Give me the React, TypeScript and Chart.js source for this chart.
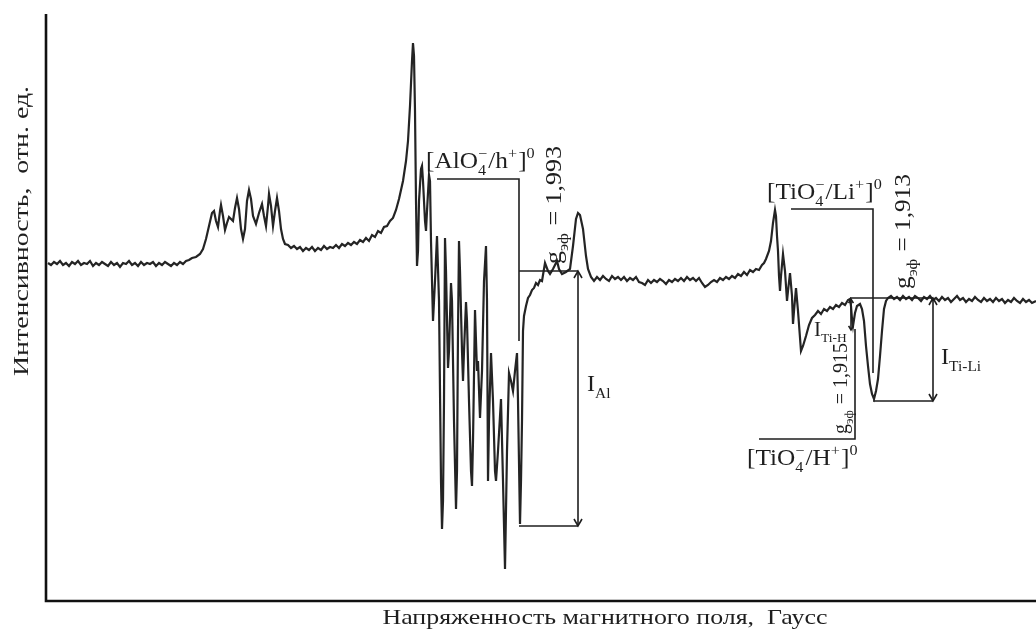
import { useEffect, useRef } from "react";
import { Chart, registerables } from "chart.js";

Chart.register(...registerables);

// Spectrum: [field (arb. units), intensity (arb. units)]
const lowFieldBaseline: [number, number][] = [
  [48, 338], [51, 336], [54, 339], [57, 337], [60, 340], [63, 336], [66, 338], [69, 335],
  [72, 339], [75, 337], [78, 340], [81, 336], [84, 338], [87, 337], [90, 340], [93, 335],
  [96, 338], [99, 336], [102, 339], [105, 337], [108, 335], [111, 339], [114, 336], [117, 338],
  [120, 334], [123, 338], [126, 337], [129, 340], [132, 336], [135, 338], [138, 335], [141, 339],
  [144, 336], [147, 338], [150, 337], [153, 339], [156, 335], [159, 338], [162, 336], [165, 339],
  [168, 337], [171, 335], [174, 338], [177, 336], [180, 339], [183, 337], [186, 340],
];

const lowFieldMultiplet: [number, number][] = [
  [189, 341], [192, 343], [196, 344], [200, 347], [203, 352], [206, 362], [209, 375], [212, 388],
  [214, 390], [216, 380], [218, 374], [220, 390], [221, 396], [223, 385], [225, 371], [227, 378],
  [229, 384], [231, 382], [233, 380], [235, 393], [237, 403], [239, 392], [241, 372], [243, 362],
  [245, 372], [247, 400], [249, 411], [251, 402], [253, 385], [256, 377], [259, 388], [262, 397],
  [264, 385], [266, 375], [268, 395], [269, 407], [271, 395], [273, 375], [275, 390], [277, 403],
  [279, 390], [281, 372], [283, 362], [285, 357],
];

const broadRise: [number, number][] = [
  [288, 356], [291, 353], [294, 355], [297, 352], [300, 354], [303, 350], [306, 353], [309, 351],
  [312, 354], [315, 350], [318, 353], [321, 351], [324, 355], [327, 352], [330, 354], [333, 353],
  [336, 356], [339, 353], [342, 357], [345, 355], [348, 358], [351, 356], [354, 359], [357, 357],
  [360, 361], [363, 359], [366, 363], [369, 360], [372, 366], [375, 364], [378, 370], [381, 368],
  [384, 374], [387, 375], [390, 380], [393, 383], [396, 391], [399, 402], [403, 420], [406, 440],
  [408, 460], [410, 495], [412, 540],
];

const aluminiumHyperfine: [number, number][] = [
  [413, 558], [414, 545], [415, 490], [416, 400], [417, 335], [418, 350], [419, 400], [421, 432],
  [422, 435], [423, 420], [425, 380], [426, 370], [427, 390], [429, 426], [430, 420], [431, 360],
  [433, 280], [435, 320], [437, 365], [439, 300], [441, 120], [442, 72], [443, 100], [444, 200],
  [445, 363], [446, 330], [448, 233], [449, 250], [451, 318], [452, 300], [454, 180], [456, 92],
  [457, 130], [458, 270], [459, 360], [460, 330], [462, 250], [463, 220], [464, 250], [466, 299],
  [467, 280], [469, 200], [471, 130], [472, 115], [473, 160], [475, 291], [476, 260], [477, 230],
  [478, 240], [480, 183], [482, 230], [484, 320], [486, 355], [487, 300], [488, 120], [489, 180],
  [491, 248], [493, 200], [495, 130], [496, 120], [498, 150], [501, 202], [503, 120], [505, 32],
  [507, 150], [509, 228], [511, 220], [513, 210], [515, 230], [517, 248], [518, 200], [520, 77],
  [521, 120], [522, 180], [523, 270], [524, 285], [526, 295], [528, 303], [530, 306], [532, 311],
  [534, 313], [536, 318], [538, 316], [540, 321], [542, 320],
];

const midFieldBaseline: [number, number][] = [
  [545, 338], [548, 330], [550, 327], [553, 332], [557, 340], [559, 332], [562, 327], [566, 329],
  [570, 332], [573, 355], [576, 382], [578, 388], [580, 386], [583, 372], [586, 345], [588, 332],
  [591, 324], [594, 320], [597, 324], [600, 321], [603, 325], [606, 322], [609, 320], [612, 325],
  [615, 322], [618, 324], [621, 321], [624, 324], [627, 320], [630, 323], [633, 321], [636, 324],
  [639, 319], [642, 318], [645, 316], [648, 321], [651, 318], [654, 321], [657, 319], [660, 322],
  [663, 320], [666, 317], [669, 321], [672, 319], [675, 322], [678, 320], [681, 323], [684, 320],
  [687, 324], [690, 321], [693, 323], [696, 320], [699, 323], [702, 318], [705, 314], [708, 316],
  [711, 319], [714, 321], [717, 319], [720, 323], [723, 321], [726, 324], [729, 322], [732, 325],
  [735, 323], [738, 327], [741, 325], [744, 329], [747, 326], [750, 331], [753, 329], [756, 332],
  [759, 331], [762, 336],
];

const titaniumRegion: [number, number][] = [
  [764, 338], [766, 342], [769, 350], [771, 360], [773, 378], [775, 391], [776, 385], [777, 365],
  [778, 350], [779, 325], [780, 310], [781, 325], [783, 347], [785, 330], [787, 300], [788, 310],
  [790, 328], [792, 305], [793, 277], [794, 290], [796, 313], [798, 290], [801, 250], [803, 255],
  [806, 265], [809, 276], [812, 283], [815, 286], [818, 290], [821, 287], [824, 292], [827, 290],
  [830, 294], [833, 292], [836, 296], [839, 294], [842, 298], [845, 296], [848, 301], [850, 302],
  [851, 295], [852, 282], [853, 275], [855, 288], [857, 295], [860, 297], [862, 292], [864, 280],
  [866, 255], [868, 235], [870, 217], [872, 207], [874, 202], [876, 210], [878, 222], [880, 245],
  [882, 270], [884, 292], [886, 300],
];

const highFieldBaseline: [number, number][] = [
  [888, 303], [891, 305], [894, 302], [897, 304], [900, 301], [903, 305], [906, 302], [909, 304],
  [912, 301], [915, 305], [918, 303], [921, 300], [924, 304], [927, 302], [930, 305], [933, 301],
  [936, 303], [939, 300], [942, 304], [945, 301], [948, 303], [951, 299], [954, 302], [957, 305],
  [960, 301], [963, 303], [966, 299], [969, 302], [972, 300], [975, 304], [978, 301], [981, 299],
  [984, 303], [987, 300], [990, 302], [993, 299], [996, 303], [999, 300], [1002, 302], [1005, 298],
  [1008, 301], [1011, 299], [1014, 303], [1017, 300], [1020, 298], [1023, 302], [1026, 299], [1029, 301],
  [1032, 298], [1036, 300],
];

// Axis range
const fieldMin = 46;
const fieldMax = 1036;
const intensityMin = 0;
const intensityMax = 587;

// Annotation geometry (data units)
const alBracket: [number, number][] = [[437, 422], [519, 422], [519, 260]];
const alLevels = { top: 330, bottom: 75, from: 519, to: 578 };
const tiLiBracket: [number, number][] = [[791, 392], [873, 392], [873, 228]];
const tiLiLevels = { top: 303, bottom: 200, from: 850, to: 933, fromBottom: 873 };
const tiHBracket: [number, number][] = [[759, 162], [855, 162], [855, 272]];
const tiHArrow = { x: 851, top: 302, bottom: 271 };

type Seg = { t?: string; sub?: string; sup?: string };

const labelAl: Seg[] = [{ t: "[AlO" }, { sub: "4", sup: "\u2212" }, { t: "/h" }, { sup: "+" }, { t: "]" }, { sup: "0" }];
const labelTiLi: Seg[] = [{ t: "[TiO" }, { sub: "4", sup: "\u2212" }, { t: "/Li" }, { sup: "+" }, { t: "]" }, { sup: "0" }];
const labelTiH: Seg[] = [{ t: "[TiO" }, { sub: "4", sup: "\u2212" }, { t: "/H" }, { sup: "+" }, { t: "]" }, { sup: "0" }];
const gAl: Seg[] = [{ t: "g" }, { sub: "эф" }, { t: " = 1,993" }];
const gTiLi: Seg[] = [{ t: "g" }, { sub: "эф" }, { t: " = 1,913" }];
const gTiH: Seg[] = [{ t: "g" }, { sub: "эф" }, { t: " = 1,915" }];
const iAl: Seg[] = [{ t: "I" }, { sub: "Al" }];
const iTiLi: Seg[] = [{ t: "I" }, { sub: "Ti-Li" }];
const iTiH: Seg[] = [{ t: "I" }, { sub: "Ti-H" }];

const xTitle = "Напряженность магнитного поля,  Гаусс";
const yTitle = "Интенсивность,  отн. ед.";

const FAMILY = '"Liberation Serif", "DejaVu Serif", serif';
const INK = "#1e1e1e";

function drawRich(ctx: CanvasRenderingContext2D, segs: Seg[], x: number, y: number, size: number, sx = 1) {
  ctx.save();
  ctx.translate(x, y);
  ctx.scale(sx, 1);
  let cx = 0;
  const small = size * 0.64;
  for (const s of segs) {
    if (s.t) {
      ctx.font = `${size}px ${FAMILY}`;
      ctx.fillText(s.t, cx, 0);
      cx += ctx.measureText(s.t).width;
    } else {
      ctx.font = `${small}px ${FAMILY}`;
      let w = 0;
      if (s.sub) {
        ctx.fillText(s.sub, cx, size * 0.3);
        w = Math.max(w, ctx.measureText(s.sub).width);
      }
      if (s.sup) {
        ctx.fillText(s.sup, cx, -size * 0.42);
        w = Math.max(w, ctx.measureText(s.sup).width);
      }
      cx += w + 1;
    }
  }
  ctx.restore();
}

function arrowHead(ctx: CanvasRenderingContext2D, x: number, y: number, up: boolean, s = 5) {
  const d = up ? 1 : -1;
  ctx.beginPath();
  ctx.moveTo(x - s * 0.8, y + d * s * 1.4);
  ctx.lineTo(x, y);
  ctx.lineTo(x + s * 0.8, y + d * s * 1.4);
  ctx.stroke();
}

const annotations = {
  id: "eprAnnotations",
  afterDraw(chart: any) {
    const { ctx, chartArea, scales } = chart;
    const X = (v: number) => scales.x.getPixelForValue(v);
    const Y = (v: number) => scales.y.getPixelForValue(v);
    ctx.save();
    // axes
    ctx.strokeStyle = "#111";
    ctx.lineWidth = 2.6;
    ctx.beginPath();
    ctx.moveTo(chartArea.left, chartArea.top);
    ctx.lineTo(chartArea.left, chartArea.bottom);
    ctx.lineTo(chartArea.right, chartArea.bottom);
    ctx.stroke();

    ctx.strokeStyle = INK;
    ctx.fillStyle = INK;
    ctx.lineWidth = 1.6;
    const poly = (pts: [number, number][]) => {
      ctx.beginPath();
      pts.forEach(([a, b], i) => (i ? ctx.lineTo(X(a), Y(b)) : ctx.moveTo(X(a), Y(b))));
      ctx.stroke();
    };
    poly(alBracket);
    poly(tiLiBracket);
    poly(tiHBracket);
    // Al levels and arrow
    poly([[alLevels.from, alLevels.top], [alLevels.to, alLevels.top]]);
    poly([[alLevels.from, alLevels.bottom], [alLevels.to, alLevels.bottom]]);
    poly([[alLevels.to, alLevels.top], [alLevels.to, alLevels.bottom]]);
    arrowHead(ctx, X(alLevels.to), Y(alLevels.top), true);
    arrowHead(ctx, X(alLevels.to), Y(alLevels.bottom), false);
    // Ti-Li levels
    poly([[tiLiLevels.from, tiLiLevels.top], [tiLiLevels.to, tiLiLevels.top]]);
    poly([[tiLiLevels.fromBottom, tiLiLevels.bottom], [tiLiLevels.to, tiLiLevels.bottom]]);
    poly([[tiLiLevels.to, tiLiLevels.top], [tiLiLevels.to, tiLiLevels.bottom]]);
    arrowHead(ctx, X(tiLiLevels.to), Y(tiLiLevels.top), true);
    arrowHead(ctx, X(tiLiLevels.to), Y(tiLiLevels.bottom), false);
    // Ti-H small arrow
    poly([[tiHArrow.x, tiHArrow.top], [tiHArrow.x, tiHArrow.bottom]]);
    arrowHead(ctx, X(tiHArrow.x), Y(tiHArrow.top), true, 3);
    arrowHead(ctx, X(tiHArrow.x), Y(tiHArrow.bottom), false, 3);

    // labels
    ctx.textBaseline = "alphabetic";
    ctx.textAlign = "left";
    drawRich(ctx, labelAl, X(426), Y(433), 23, 1.1);
    drawRich(ctx, labelTiLi, X(767), Y(402), 23, 1.1);
    drawRich(ctx, labelTiH, X(747), Y(136), 23, 1.1);
    drawRich(ctx, iAl, X(587), Y(210), 23, 1.05);
    drawRich(ctx, iTiLi, X(941), Y(237), 23, 1.05);
    drawRich(ctx, iTiH, X(814), Y(265), 21, 1.0);

    const rotated = (segs: Seg[], x: number, y: number, size: number, sx: number) => {
      ctx.save();
      ctx.translate(X(x), Y(y));
      ctx.rotate(-Math.PI / 2);
      drawRich(ctx, segs, 0, 0, size, sx);
      ctx.restore();
    };
    rotated(gAl, 561, 337, 23, 1.13);
    rotated(gTiLi, 910, 312, 23, 1.1);
    rotated(gTiH, 847, 167, 20, 1.0);

    // axis titles
    ctx.font = `22px ${FAMILY}`;
    ctx.textAlign = "center";
    ctx.textBaseline = "middle";
    const fit = (text: string, cx: number, cy: number, target: number, rot: boolean) => {
      const w = ctx.measureText(text).width;
      ctx.save();
      ctx.translate(cx, cy);
      if (rot) ctx.rotate(-Math.PI / 2);
      ctx.scale(target / w, 1);
      ctx.fillText(text, 0, 0);
      ctx.restore();
    };
    fit(xTitle, 605, 618, 445, false);
    fit(yTitle, 22, 231, 290, true);
    ctx.restore();
  },
};

export default function App() {
  const ref = useRef<HTMLCanvasElement | null>(null);
  useEffect(() => {
    document.body.style.margin = "0";
    const canvas = ref.current;
    if (!canvas) return;
    const points = [
      ...lowFieldBaseline,
      ...lowFieldMultiplet,
      ...broadRise,
      ...aluminiumHyperfine,
      ...midFieldBaseline,
      ...titaniumRegion,
      ...highFieldBaseline,
    ].map(([x, y]) => ({ x, y }));
    const chart = new Chart(canvas, {
      type: "line",
      data: {
        datasets: [
          {
            data: points,
            borderColor: "#242424",
            borderWidth: 2.2,
            pointRadius: 0,
            tension: 0,
            fill: false,
          },
        ],
      },
      options: {
        animation: false,
        responsive: false,
        devicePixelRatio: 1,
        layout: { padding: { left: 46, right: 0, top: 14, bottom: 32 } },
        plugins: { legend: { display: false }, tooltip: { enabled: false } },
        scales: {
          x: { type: "linear", min: fieldMin, max: fieldMax, display: false },
          y: { type: "linear", min: intensityMin, max: intensityMax, display: false },
        },
      },
      plugins: [annotations],
    });
    return () => chart.destroy();
  }, []);
  return (
    <div style={{ position: "fixed", left: 0, top: 0, width: 1036, height: 633, background: "#fff" }}>
      <canvas ref={ref} width={1036} height={633} />
    </div>
  );
}
